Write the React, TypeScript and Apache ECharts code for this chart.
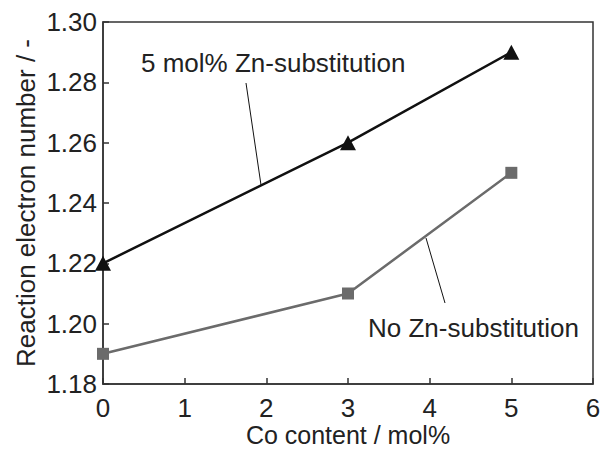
import React, { useEffect, useRef } from "react";
import * as echarts from "echarts";

// Co content (mol%) on the x axis
const coContent = [0, 3, 5];
// Reaction electron number for each composition
const znSubstituted = [1.22, 1.26, 1.29];
const noZnSubstitution = [1.19, 1.21, 1.25];
// Axis ranges
const xTicks = { min: 0, max: 6, interval: 1 };
const yTicks = { min: 1.18, max: 1.3, interval: 0.02 };

const FONT = "'Liberation Sans', Arial, sans-serif";
const FS = 26;

export default function App() {
  const ref = useRef<HTMLDivElement>(null);

  useEffect(() => {
    if (!ref.current) return;
    const chart = echarts.init(ref.current, undefined, { renderer: "svg" });
    const axisColor = "#333";
    chart.setOption({
      animation: false,
      backgroundColor: "#fff",
      grid: {
        left: 103,
        right: 15,
        top: 22,
        bottom: 66,
        outerBoundsMode: "none",
        show: true,
        borderColor: axisColor,
        borderWidth: 1.5,
        backgroundColor: "transparent",
      },
      xAxis: {
        type: "value",
        min: xTicks.min,
        max: xTicks.max,
        interval: xTicks.interval,
        name: "Co content / mol%",
        nameLocation: "middle",
        nameGap: 38,
        nameMoveOverlap: false,
        nameTextStyle: { fontFamily: FONT, fontSize: 25, color: "#222" },
        axisLine: { lineStyle: { color: axisColor, width: 1.5 } },
        axisTick: { inside: true, length: 6, lineStyle: { color: axisColor, width: 1.5 } },
        axisLabel: { fontFamily: FONT, fontSize: FS, color: "#222", margin: 11 },
        splitLine: { show: false },
      },
      yAxis: {
        type: "value",
        min: yTicks.min,
        max: yTicks.max,
        interval: yTicks.interval,
        name: "Reaction electron number / -",
        nameLocation: "middle",
        nameGap: 64,
        nameMoveOverlap: false,
        nameTextStyle: { fontFamily: FONT, fontSize: FS, color: "#222" },
        axisLine: { lineStyle: { color: axisColor, width: 1.5 } },
        axisTick: { inside: true, length: 6, lineStyle: { color: axisColor, width: 1.5 } },
        axisLabel: {
          fontFamily: FONT,
          fontSize: FS,
          color: "#222",
          margin: 6,
          formatter: (v: number) => v.toFixed(2),
        },
        splitLine: { show: false },
      },
      series: [
        {
          name: "5 mol% Zn-substitution",
          type: "line",
          data: coContent.map((x, i) => [x, znSubstituted[i]]),
          symbol: "triangle",
          symbolSize: [16, 15],
          lineStyle: { color: "#111", width: 2.5 },
          itemStyle: { color: "#111" },
        },
        {
          name: "No Zn-substitution",
          type: "line",
          data: coContent.map((x, i) => [x, noZnSubstitution[i]]),
          symbol: "rect",
          symbolSize: 12,
          lineStyle: { color: "#6b6b6b", width: 2.5 },
          itemStyle: { color: "#6b6b6b" },
        },
      ],
      graphic: [
        {
          type: "text",
          left: 141,
          top: 50,
          style: { text: "5 mol% Zn-substitution", font: `${FS}px ${FONT}`, fill: "#222" },
        },
        {
          type: "line",
          shape: { x1: 246, y1: 83, x2: 261, y2: 185 },
          style: { stroke: "#111", lineWidth: 1 },
        },
        {
          type: "text",
          left: 368,
          top: 315,
          style: { text: "No Zn-substitution", font: `${FS}px ${FONT}`, fill: "#222" },
        },
        {
          type: "line",
          shape: { x1: 426, y1: 238, x2: 445, y2: 303 },
          style: { stroke: "#111", lineWidth: 1 },
        },
      ],
    });
    return () => chart.dispose();
  }, []);

  return <div ref={ref} style={{ width: 608, height: 450, position: "absolute", left: 0, top: 0 }} />;
}
